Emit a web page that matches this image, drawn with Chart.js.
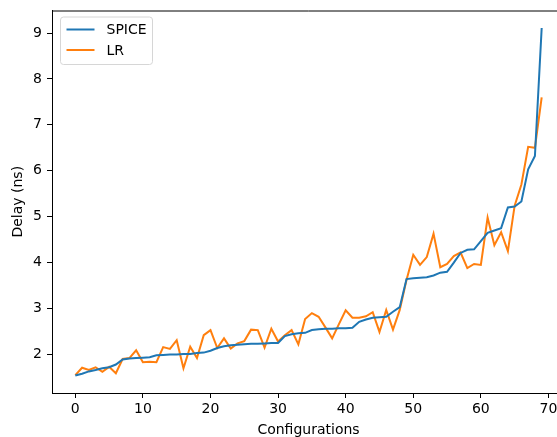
<!DOCTYPE html>
<html>
<head>
<meta charset="utf-8">
<script src="https://cdn.jsdelivr.net/npm/chart.js@4"></script>
<style>
  html, body { margin: 0; padding: 0; background: #fff; overflow: hidden; }
  #wrap { width: 572px; height: 437px; }
</style>
</head>
<body>
<div id="wrap"><canvas id="delayChart"></canvas></div>
<script>
// Data (configuration index 0..69)
const spiceDelay = [
  1.54, 1.58, 1.63, 1.66, 1.70, 1.72, 1.78, 1.89, 1.91, 1.92,
  1.93, 1.94, 1.98, 1.99, 2.00, 2.00, 2.01, 2.01, 2.03, 2.04,
  2.08, 2.14, 2.18, 2.20, 2.21, 2.22, 2.23, 2.23, 2.24, 2.25,
  2.25, 2.40, 2.44, 2.46, 2.47, 2.53, 2.55, 2.56, 2.56, 2.57,
  2.57, 2.58, 2.71, 2.76, 2.80, 2.81, 2.82, 2.93, 3.03, 3.64,
  3.66, 3.67, 3.68, 3.72, 3.78, 3.80, 4.00, 4.21, 4.28, 4.29,
  4.47, 4.65, 4.70, 4.75, 5.20, 5.22, 5.33, 6.03, 6.32, 9.11
];
const lrDelay = [
  1.55, 1.71, 1.66, 1.72, 1.62, 1.73, 1.59, 1.90, 1.92, 2.09,
  1.83, 1.84, 1.83, 2.16, 2.12, 2.31, 1.70, 2.17, 1.92, 2.42,
  2.53, 2.14, 2.35, 2.13, 2.24, 2.29, 2.54, 2.53, 2.15, 2.56,
  2.28, 2.42, 2.53, 2.22, 2.77, 2.90, 2.82, 2.59, 2.35, 2.66,
  2.96, 2.80, 2.80, 2.83, 2.92, 2.49, 2.97, 2.54, 2.97, 3.62,
  4.17, 3.95, 4.12, 4.63, 3.90, 3.97, 4.14, 4.22, 3.88, 3.97,
  3.95, 4.98, 4.38, 4.66, 4.25, 5.24, 5.70, 6.52, 6.50, 7.60
];
const seriesNames = ['SPICE', 'LR'];
const xTicks = [0, 10, 20, 30, 40, 50, 60, 70];
const yTicks = [2, 3, 4, 5, 6, 7, 8, 9];

const FONT = 'DejaVu Sans';

function toPoints(values) {
  return values.map((v, i) => ({ x: i, y: v }));
}

// matplotlib-style legend box in the upper left of the axes
const boxLegend = {
  id: 'boxLegend',
  afterDraw(chart) {
    const { ctx, chartArea } = chart;
    const x0 = chartArea.left + 8.5, y0 = chartArea.top + 6.5;
    const w = 92, h = 47.5;
    ctx.save();
    ctx.beginPath();
    ctx.roundRect(x0, y0, w, h, 3);
    ctx.fillStyle = 'rgba(255,255,255,0.8)';
    ctx.fill();
    ctx.strokeStyle = '#d6d6d6';
    ctx.lineWidth = 1;
    ctx.stroke();
    ctx.font = '14px ' + FONT;
    ctx.textBaseline = 'middle';
    chart.data.datasets.forEach((ds, i) => {
      const y = y0 + 12.5 + i * 20.5;
      ctx.beginPath();
      ctx.moveTo(x0 + 6, y);
      ctx.lineTo(x0 + 34, y);
      ctx.strokeStyle = ds.borderColor;
      ctx.lineWidth = 2;
      ctx.stroke();
      ctx.fillStyle = '#000';
      ctx.fillText(ds.label, x0 + 46, y + 1);
    });
    ctx.restore();
  }
};

// top spine (right spine falls outside the cropped picture)
const topSpine = {
  id: 'topSpine',
  afterDraw(chart) {
    const { ctx, chartArea } = chart;
    ctx.save();
    ctx.strokeStyle = '#000';
    ctx.lineWidth = 1;
    ctx.beginPath();
    ctx.moveTo(chartArea.left, chartArea.top + 0.5);
    ctx.lineTo(chartArea.right, chartArea.top + 0.5);
    ctx.lineTo(chartArea.right, chartArea.bottom);
    ctx.stroke();
    ctx.restore();
  }
};

new Chart(document.getElementById('delayChart'), {
  type: 'line',
  data: {
    datasets: [
      { label: seriesNames[0], data: toPoints(spiceDelay), borderColor: '#1f77b4', borderWidth: 2, pointRadius: 0, tension: 0 },
      { label: seriesNames[1], data: toPoints(lrDelay), borderColor: '#ff7f0e', borderWidth: 2, pointRadius: 0, tension: 0 }
    ]
  },
  options: {
    responsive: true,
    maintainAspectRatio: false,
    animation: false,
    devicePixelRatio: 1,
    layout: { padding: { top: 10.5, right: 7, left: 0, bottom: 0 } },
    plugins: { legend: { display: false }, tooltip: { enabled: false } },
    scales: {
      x: {
        type: 'linear',
        min: -3.45,
        max: 72.45,
        afterBuildTicks: scale => { scale.ticks = xTicks.map(v => ({ value: v })); },
        afterFit: scale => { scale.height = 44; scale.paddingLeft = 0; scale.paddingRight = 0; },
        grid: { drawOnChartArea: false, drawTicks: true, tickLength: 5, color: '#000' },
        border: { display: true, color: '#000', width: 1 },
        ticks: { color: '#000', padding: 3, maxRotation: 0, font: { family: FONT, size: 14 } },
        title: { display: true, text: 'Configurations', color: '#000', padding: { top: 0, bottom: -2 }, font: { family: FONT, size: 14 } }
      },
      y: {
        min: 1.16,
        max: 9.49,
        afterBuildTicks: scale => { scale.ticks = yTicks.map(v => ({ value: v })); },
        afterFit: scale => { scale.width = 52; scale.paddingTop = 0; scale.paddingBottom = 0; },
        grid: { drawOnChartArea: false, drawTicks: true, tickLength: 5, color: '#000' },
        border: { display: true, color: '#000', width: 1 },
        ticks: { color: '#000', padding: 5, font: { family: FONT, size: 14 } },
        title: { display: true, text: 'Delay (ns)', color: '#000', padding: { top: 10, bottom: 0 }, font: { family: FONT, size: 14 } }
      }
    }
  },
  plugins: [boxLegend, topSpine]
});
</script>
</body>
</html>
